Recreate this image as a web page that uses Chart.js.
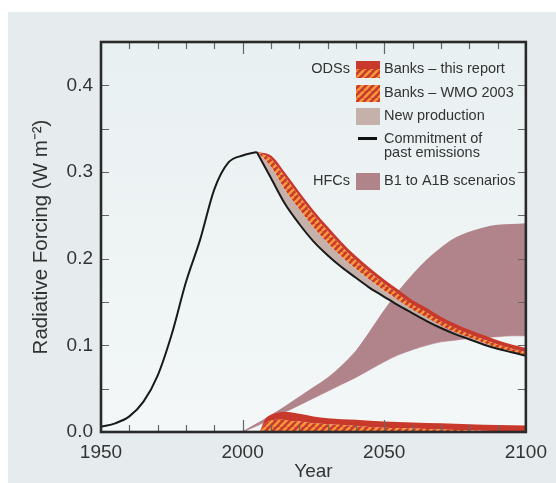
<!DOCTYPE html>
<html>
<head>
<meta charset="utf-8">
<script src="https://cdn.jsdelivr.net/npm/chart.js@4.4.1/dist/chart.umd.min.js"></script>
<style>
  body { margin: 0; background: #fff; }
  #bg { position: absolute; left: 8px; top: 12px; right: 0; bottom: 0; background: #e6ecee; }
  #wrap { position: absolute; left: 0; top: 0; width: 556px; height: 483px; }
</style>
</head>
<body>
<div id="bg"></div>
<div id="wrap"><canvas id="mycanvas" width="556" height="483"></canvas></div>
<script>
// commitment of past emissions, up to the 2005 peak
var pastYears = [1950, 1955, 1960, 1965, 1970, 1975, 1980, 1985, 1990, 1995, 2000, 2005];
var pastValues = [0.006, 0.010, 0.018, 0.035, 0.065, 0.113, 0.173, 0.222, 0.280, 0.311, 0.319, 0.323];

// ODS bands after 2005 (cumulative tops)
var futureYears = [2005, 2010, 2015, 2020, 2025, 2030, 2035, 2040, 2045, 2050, 2055, 2060, 2065, 2070, 2075, 2080, 2085, 2090, 2095, 2100];
var commitFuture = [0.323, 0.293, 0.263, 0.240, 0.220, 0.204, 0.190, 0.178, 0.166, 0.156, 0.146, 0.137, 0.128, 0.120, 0.113, 0.107, 0.101, 0.096, 0.092, 0.088];
var newProdTop = [0.323, 0.306, 0.279, 0.257, 0.236, 0.218, 0.202, 0.188, 0.175, 0.163, 0.152, 0.141, 0.132, 0.123, 0.115, 0.109, 0.103, 0.097, 0.093, 0.089];
var wmoTop = [0.323, 0.315, 0.294, 0.272, 0.251, 0.232, 0.214, 0.198, 0.184, 0.171, 0.159, 0.147, 0.138, 0.128, 0.120, 0.113, 0.107, 0.101, 0.096, 0.092];
var reportTop = [0.323, 0.319, 0.299, 0.277, 0.256, 0.237, 0.219, 0.203, 0.189, 0.176, 0.164, 0.152, 0.143, 0.133, 0.125, 0.118, 0.112, 0.106, 0.101, 0.097];

// banks band near zero
var bottomYears = [2006, 2008, 2010, 2012, 2014, 2016, 2020, 2025, 2030, 2040, 2050, 2060, 2070, 2080, 2090, 2100];
var bottomHatch = [0, 0.010, 0.013, 0.014, 0.014, 0.013, 0.012, 0.010, 0.009, 0.007, 0.005, 0.004, 0.003, 0.002, 0.001, 0.001];
var bottomRed = [0, 0.015, 0.020, 0.022, 0.023, 0.023, 0.021, 0.018, 0.016, 0.014, 0.012, 0.011, 0.010, 0.009, 0.008, 0.0075];

// HFC scenarios
var hfcYears = [2000, 2005, 2010, 2015, 2020, 2025, 2030, 2035, 2040, 2045, 2050, 2055, 2060, 2065, 2070, 2075, 2080, 2085, 2090, 2095, 2100];
var hfcUpper = [0.001, 0.010, 0.020, 0.030, 0.041, 0.052, 0.063, 0.077, 0.094, 0.117, 0.141, 0.163, 0.182, 0.199, 0.213, 0.224, 0.231, 0.236, 0.239, 0.240, 0.241];
var hfcLower = [0.000, 0.007, 0.015, 0.023, 0.031, 0.039, 0.047, 0.055, 0.063, 0.072, 0.081, 0.089, 0.095, 0.100, 0.104, 0.106, 0.108, 0.109, 0.110, 0.111, 0.111];

var xTicks = [1950, 2000, 2050, 2100];

var RED = '#c8392b';
var ORANGE = '#f8983c';
var GREY = '#c6b0aa';
var MAUVE = '#b1838b';
var TEXT = '#333';
var FONT = '"Liberation Sans", Arial, Helvetica, sans-serif';

function pts(xs, ys) {
  return xs.map(function(x, i) { return {x: x, y: ys[i]}; });
}

function makeHatch() {
  var c = document.createElement('canvas');
  c.width = 7; c.height = 7;
  var g = c.getContext('2d');
  g.fillStyle = RED;
  g.fillRect(0, 0, 7, 7);
  g.strokeStyle = ORANGE;
  g.lineWidth = 2.6;
  for (var k = -7; k <= 7; k += 7) {
    g.beginPath();
    g.moveTo(k, 7);
    g.lineTo(k + 7, 0);
    g.stroke();
  }
  return g.createPattern(c, 'repeat');
}
var hatch = makeHatch();

var base = {pointRadius: 0, cubicInterpolationMode: 'monotone', tension: 0.4, borderWidth: 0};

var plotBg = {
  id: 'plotBg',
  beforeDraw: function(chart) {
    var a = chart.chartArea, ctx = chart.ctx;
    var grd = ctx.createLinearGradient(0, a.top, 0, a.bottom);
    grd.addColorStop(0, '#e9f0f1');
    grd.addColorStop(1, '#f3f7f7');
    ctx.save();
    ctx.fillStyle = grd;
    ctx.fillRect(a.left, a.top, a.right - a.left, a.bottom - a.top);
    ctx.restore();
  }
};

var frame = {
  id: 'frame',
  afterDatasetsDraw: function(chart) {
    var a = chart.chartArea, ctx = chart.ctx;
    var x = chart.scales.x, y = chart.scales.y;
    ctx.save();
    ctx.strokeStyle = '#666';
    ctx.lineWidth = 1.2;
    for (var yr = 1960; yr < 2100; yr += 10) {
      var px = Math.round(x.getPixelForValue(yr)) + 0.5;
      var len = yr % 50 === 0 ? 12 : 7;
      ctx.beginPath();
      ctx.moveTo(px, a.bottom); ctx.lineTo(px, a.bottom - len);
      ctx.moveTo(px, a.top); ctx.lineTo(px, a.top + len);
      ctx.stroke();
    }
    for (var v = 0.05; v < 0.449; v += 0.05) {
      var py = Math.round(y.getPixelForValue(v)) + 0.5;
      ctx.beginPath();
      ctx.moveTo(a.left, py); ctx.lineTo(a.left + 8, py);
      ctx.moveTo(a.right, py); ctx.lineTo(a.right - 8, py);
      ctx.stroke();
    }
    ctx.strokeStyle = '#2a2a2a';
    ctx.lineWidth = 2.6;
    ctx.strokeRect(a.left, a.top, a.right - a.left, a.bottom - a.top);
    ctx.restore();
  },
  afterDraw: function(chart) {
    var ctx = chart.ctx;
    ctx.save();
    ctx.font = '14.5px ' + FONT;
    ctx.fillStyle = TEXT;
    ctx.textBaseline = 'middle';
    ctx.textAlign = 'right';
    ctx.fillText('ODSs', 350, 69);
    ctx.fillText('HFCs', 350, 181);
    ctx.textAlign = 'left';
    ctx.fillText('Banks \u2013 this report', 384, 69);
    ctx.fillText('Banks \u2013 WMO 2003', 384, 93);
    ctx.fillText('New production', 384, 116);
    ctx.fillText('Commitment of', 384, 139);
    ctx.fillText('past emissions', 384, 153);
    ctx.fillText('B1 to A1B scenarios', 384, 181);
    // swatches
    ctx.fillStyle = hatch;
    ctx.fillRect(356, 61, 24, 17);
    ctx.fillStyle = RED;
    ctx.fillRect(356, 61, 24, 8);
    ctx.fillStyle = hatch;
    ctx.fillRect(356, 85, 24, 17);
    ctx.fillStyle = GREY;
    ctx.fillRect(356, 108, 24, 17);
    ctx.fillStyle = MAUVE;
    ctx.fillRect(356, 173, 24, 17);
    ctx.strokeStyle = '#111';
    ctx.lineWidth = 3;
    ctx.beginPath();
    ctx.moveTo(358, 138.5); ctx.lineTo(377, 138.5);
    ctx.stroke();
    ctx.restore();
  }
};

var ctx = document.getElementById('mycanvas');

var chart = new Chart(ctx, {
  type: 'line',
  data: {
    datasets: [
      Object.assign({}, base, {label: 'Commitment (past)', data: pts(pastYears, pastValues), borderColor: '#1a1a1a', borderWidth: 2, fill: false}),
      Object.assign({}, base, {label: 'Commitment (future)', data: pts(futureYears, commitFuture), borderColor: '#1a1a1a', borderWidth: 2, fill: false}),
      Object.assign({}, base, {label: 'New production', data: pts(futureYears, newProdTop), backgroundColor: GREY, fill: 1}),
      Object.assign({}, base, {label: 'Banks - WMO 2003', data: pts(futureYears, wmoTop), backgroundColor: hatch, fill: 2}),
      Object.assign({}, base, {label: 'Banks - this report', data: pts(futureYears, reportTop), backgroundColor: RED, fill: 3}),
      Object.assign({}, base, {label: 'Banks low hatch', data: pts(bottomYears, bottomHatch), backgroundColor: hatch, fill: 'origin'}),
      Object.assign({}, base, {label: 'Banks low', data: pts(bottomYears, bottomRed), backgroundColor: RED, fill: 5}),
      Object.assign({}, base, {label: 'HFC upper', data: pts(hfcYears, hfcUpper), backgroundColor: MAUVE, fill: 8}),
      Object.assign({}, base, {label: 'HFC lower', data: pts(hfcYears, hfcLower), borderColor: '#cfaab0', borderWidth: 1, fill: false})
    ]
  },
  options: {
    responsive: false,
    animation: false,
    layout: {padding: {left: 0, top: 42, right: 24, bottom: 0}},
    plugins: {legend: {display: false}, tooltip: {enabled: false}},
    scales: {
      x: {
        type: 'linear', min: 1950, max: 2100,
        grid: {display: false, drawTicks: false},
        border: {display: false},
        afterBuildTicks: function(s) { s.ticks = xTicks.map(function(v) { return {value: v}; }); },
        afterFit: function(s) { s.height = 51; },
        ticks: {color: TEXT, font: {family: FONT, size: 19}, padding: 9, maxRotation: 0,
          callback: function(v) { return String(v); }},
        title: {display: true, text: 'Year', color: TEXT, font: {family: FONT, size: 19}, padding: {top: 0, bottom: 0}}
      },
      y: {
        min: 0, max: 0.45,
        grid: {display: false, drawTicks: false},
        border: {display: false},
        afterFit: function(s) { s.width = 101; },
        ticks: {stepSize: 0.1, includeBounds: false, color: TEXT, font: {family: FONT, size: 19}, padding: 8,
          callback: function(v) { return v.toFixed(1); }},
        title: {display: true, text: 'Radiative Forcing (W m\u207B\u00B2)', color: TEXT, font: {family: FONT, size: 20.5}, padding: {top: 29, bottom: 0}}
      }
    }
  },
  plugins: [plotBg, frame]
});
</script>
</body>
</html>
